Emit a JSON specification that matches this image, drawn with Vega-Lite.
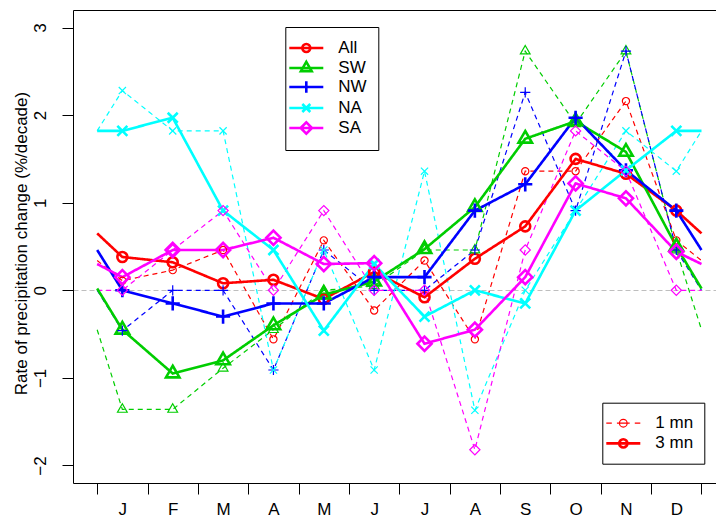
{
  "$schema": "https://vega.github.io/schema/vega-lite/v6.json",
  "width": 643,
  "height": 473,
  "autosize": {"type": "none"},
  "padding": {"left": 73, "top": 10, "right": 0, "bottom": 35},
  "config": {
    "view": {"stroke": null},
    "font": "Liberation Sans",
    "axis": {"grid": false, "domainColor": "black", "tickColor": "black", "labelColor": "black", "titleColor": "black", "labelFont": "Liberation Sans", "titleFont": "Liberation Sans", "labelFontSize": 17, "titleFontSize": 17, "titleFontWeight": "normal", "domainWidth": 1, "tickWidth": 1},
    "legend": {"labelFont": "Liberation Sans", "labelFontSize": 17, "labelColor": "black"}
  },
  "data": {"name": "d"},
  "datasets": {
    "d": [
      {"region":"All","type":"1 mn","month":0.5,"value":0.34},{"region":"All","type":"1 mn","month":1,"value":0.11},{"region":"All","type":"1 mn","month":2,"value":0.23},{"region":"All","type":"1 mn","month":3,"value":0.46},{"region":"All","type":"1 mn","month":4,"value":-0.56},{"region":"All","type":"1 mn","month":5,"value":0.57},{"region":"All","type":"1 mn","month":6,"value":-0.23},{"region":"All","type":"1 mn","month":7,"value":0.34},{"region":"All","type":"1 mn","month":8,"value":-0.56},{"region":"All","type":"1 mn","month":9,"value":1.36},{"region":"All","type":"1 mn","month":10,"value":1.36},{"region":"All","type":"1 mn","month":11,"value":2.16},{"region":"All","type":"1 mn","month":12,"value":0.57},{"region":"All","type":"1 mn","month":12.5,"value":0.34},
      {"region":"SW","type":"1 mn","month":0.5,"value":-0.45},{"region":"SW","type":"1 mn","month":1,"value":-1.36},{"region":"SW","type":"1 mn","month":2,"value":-1.36},{"region":"SW","type":"1 mn","month":3,"value":-0.89},{"region":"SW","type":"1 mn","month":4,"value":-0.45},{"region":"SW","type":"1 mn","month":5,"value":0.0},{"region":"SW","type":"1 mn","month":6,"value":0.05},{"region":"SW","type":"1 mn","month":7,"value":0.46},{"region":"SW","type":"1 mn","month":8,"value":0.46},{"region":"SW","type":"1 mn","month":9,"value":2.73},{"region":"SW","type":"1 mn","month":10,"value":1.9},{"region":"SW","type":"1 mn","month":11,"value":2.73},{"region":"SW","type":"1 mn","month":12,"value":0.46},{"region":"SW","type":"1 mn","month":12.5,"value":-0.45},
      {"region":"NW","type":"1 mn","month":0.5,"value":0.0},{"region":"NW","type":"1 mn","month":1,"value":-0.46},{"region":"NW","type":"1 mn","month":2,"value":0.0},{"region":"NW","type":"1 mn","month":3,"value":0.0},{"region":"NW","type":"1 mn","month":4,"value":-0.91},{"region":"NW","type":"1 mn","month":5,"value":0.46},{"region":"NW","type":"1 mn","month":6,"value":0.0},{"region":"NW","type":"1 mn","month":7,"value":0.0},{"region":"NW","type":"1 mn","month":8,"value":0.46},{"region":"NW","type":"1 mn","month":9,"value":2.26},{"region":"NW","type":"1 mn","month":10,"value":0.91},{"region":"NW","type":"1 mn","month":11,"value":2.73},{"region":"NW","type":"1 mn","month":12,"value":0.46},{"region":"NW","type":"1 mn","month":12.5,"value":0.0},
      {"region":"NA","type":"1 mn","month":0.5,"value":1.82},{"region":"NA","type":"1 mn","month":1,"value":2.28},{"region":"NA","type":"1 mn","month":2,"value":1.82},{"region":"NA","type":"1 mn","month":3,"value":1.82},{"region":"NA","type":"1 mn","month":4,"value":-0.91},{"region":"NA","type":"1 mn","month":5,"value":0.46},{"region":"NA","type":"1 mn","month":6,"value":-0.91},{"region":"NA","type":"1 mn","month":7,"value":1.36},{"region":"NA","type":"1 mn","month":8,"value":-1.37},{"region":"NA","type":"1 mn","month":9,"value":0.0},{"region":"NA","type":"1 mn","month":10,"value":0.91},{"region":"NA","type":"1 mn","month":11,"value":1.82},{"region":"NA","type":"1 mn","month":12,"value":1.36},{"region":"NA","type":"1 mn","month":12.5,"value":1.82},
      {"region":"SA","type":"1 mn","month":0.5,"value":0.0},{"region":"SA","type":"1 mn","month":1,"value":0.0},{"region":"SA","type":"1 mn","month":2,"value":0.46},{"region":"SA","type":"1 mn","month":3,"value":0.91},{"region":"SA","type":"1 mn","month":4,"value":0.0},{"region":"SA","type":"1 mn","month":5,"value":0.91},{"region":"SA","type":"1 mn","month":6,"value":0.0},{"region":"SA","type":"1 mn","month":7,"value":0.0},{"region":"SA","type":"1 mn","month":8,"value":-1.82},{"region":"SA","type":"1 mn","month":9,"value":0.46},{"region":"SA","type":"1 mn","month":10,"value":1.82},{"region":"SA","type":"1 mn","month":11,"value":1.36},{"region":"SA","type":"1 mn","month":12,"value":0.0},{"region":"SA","type":"1 mn","month":12.5,"value":0.0},
      {"region":"All","type":"3 mn","month":0.5,"value":0.65},{"region":"All","type":"3 mn","month":1,"value":0.38},{"region":"All","type":"3 mn","month":2,"value":0.32},{"region":"All","type":"3 mn","month":3,"value":0.08},{"region":"All","type":"3 mn","month":4,"value":0.12},{"region":"All","type":"3 mn","month":5,"value":-0.1},{"region":"All","type":"3 mn","month":6,"value":0.21},{"region":"All","type":"3 mn","month":7,"value":-0.08},{"region":"All","type":"3 mn","month":8,"value":0.36},{"region":"All","type":"3 mn","month":9,"value":0.73},{"region":"All","type":"3 mn","month":10,"value":1.5},{"region":"All","type":"3 mn","month":11,"value":1.33},{"region":"All","type":"3 mn","month":12,"value":0.91},{"region":"All","type":"3 mn","month":12.5,"value":0.65},
      {"region":"SW","type":"3 mn","month":0.5,"value":0.02},{"region":"SW","type":"3 mn","month":1,"value":-0.45},{"region":"SW","type":"3 mn","month":2,"value":-0.95},{"region":"SW","type":"3 mn","month":3,"value":-0.8},{"region":"SW","type":"3 mn","month":4,"value":-0.4},{"region":"SW","type":"3 mn","month":5,"value":-0.05},{"region":"SW","type":"3 mn","month":6,"value":0.1},{"region":"SW","type":"3 mn","month":7,"value":0.47},{"region":"SW","type":"3 mn","month":8,"value":0.95},{"region":"SW","type":"3 mn","month":9,"value":1.73},{"region":"SW","type":"3 mn","month":10,"value":1.93},{"region":"SW","type":"3 mn","month":11,"value":1.58},{"region":"SW","type":"3 mn","month":12,"value":0.5},{"region":"SW","type":"3 mn","month":12.5,"value":0.02},
      {"region":"NW","type":"3 mn","month":0.5,"value":0.46},{"region":"NW","type":"3 mn","month":1,"value":0.0},{"region":"NW","type":"3 mn","month":2,"value":-0.15},{"region":"NW","type":"3 mn","month":3,"value":-0.3},{"region":"NW","type":"3 mn","month":4,"value":-0.15},{"region":"NW","type":"3 mn","month":5,"value":-0.15},{"region":"NW","type":"3 mn","month":6,"value":0.15},{"region":"NW","type":"3 mn","month":7,"value":0.15},{"region":"NW","type":"3 mn","month":8,"value":0.91},{"region":"NW","type":"3 mn","month":9,"value":1.21},{"region":"NW","type":"3 mn","month":10,"value":1.97},{"region":"NW","type":"3 mn","month":11,"value":1.37},{"region":"NW","type":"3 mn","month":12,"value":0.91},{"region":"NW","type":"3 mn","month":12.5,"value":0.46},
      {"region":"NA","type":"3 mn","month":0.5,"value":1.82},{"region":"NA","type":"3 mn","month":1,"value":1.82},{"region":"NA","type":"3 mn","month":2,"value":1.97},{"region":"NA","type":"3 mn","month":3,"value":0.91},{"region":"NA","type":"3 mn","month":4,"value":0.46},{"region":"NA","type":"3 mn","month":5,"value":-0.46},{"region":"NA","type":"3 mn","month":6,"value":0.3},{"region":"NA","type":"3 mn","month":7,"value":-0.3},{"region":"NA","type":"3 mn","month":8,"value":0.0},{"region":"NA","type":"3 mn","month":9,"value":-0.15},{"region":"NA","type":"3 mn","month":10,"value":0.91},{"region":"NA","type":"3 mn","month":11,"value":1.37},{"region":"NA","type":"3 mn","month":12,"value":1.82},{"region":"NA","type":"3 mn","month":12.5,"value":1.82},
      {"region":"SA","type":"3 mn","month":0.5,"value":0.3},{"region":"SA","type":"3 mn","month":1,"value":0.15},{"region":"SA","type":"3 mn","month":2,"value":0.46},{"region":"SA","type":"3 mn","month":3,"value":0.46},{"region":"SA","type":"3 mn","month":4,"value":0.6},{"region":"SA","type":"3 mn","month":5,"value":0.3},{"region":"SA","type":"3 mn","month":6,"value":0.31},{"region":"SA","type":"3 mn","month":7,"value":-0.61},{"region":"SA","type":"3 mn","month":8,"value":-0.45},{"region":"SA","type":"3 mn","month":9,"value":0.15},{"region":"SA","type":"3 mn","month":10,"value":1.22},{"region":"SA","type":"3 mn","month":11,"value":1.05},{"region":"SA","type":"3 mn","month":12,"value":0.44},{"region":"SA","type":"3 mn","month":12.5,"value":0.3}
    ]
  },
  "resolve": {"scale": {"shape": "independent", "strokeWidth": "independent", "color": "independent"}},
  "layer": [
    {
      "encoding": {
        "x": {"field": "month", "type": "quantitative", "scale": {"domain": [0.02, 12.788], "nice": false, "zero": false},
          "axis": {"orient": "bottom", "title": null, "values": [0.5,1.5,2.5,3.5,4.5,5.5,6.5,7.5,8.5,9.5,10.5,11.5,12.5], "tickSize": 11, "labelExpr": "['J','F','M','A','M','J','J','A','S','O','N','D'][datum.value - 0.5] || ''", "labelOffset": 25.18, "labelPadding": 20, "labelBaseline": "alphabetic", "labelAlign": "center", "labelFlush": false, "labelOverlap": false, "labelBound": false}},
        "y": {"field": "value", "type": "quantitative", "scale": {"domain": [-2.2, 3.2], "nice": false, "zero": false},
          "axis": {"orient": "left", "values": [-2,-1,0,1,2,3,3.2], "tickSize": 11,
            "tickOpacity": {"condition": {"test": "datum.value > 3.1", "value": 0}, "value": 1},
            "grid": true, "gridWidth": 1,
            "gridColor": {"condition": {"test": "datum.value === 0", "value": "#bebebe"}, "value": "black"},
            "gridOpacity": {"condition": {"test": "datum.value === 0 || datum.value > 3.1", "value": 1}, "value": 0},
            "gridDash": {"condition": {"test": "datum.value === 0", "value": [5, 3]}, "value": []},
            "labelExpr": "datum.value > 3.1 ? '' : datum.label",
            "labelAngle": 270, "labelAlign": "center", "labelBaseline": "alphabetic", "labelPadding": 17, "labelFlush": false, "labelOverlap": false, "labelBound": false,
            "title": "Rate of precipitation change (%/decade)", "titleAngle": 270, "titleAlign": "center", "titleBaseline": "alphabetic", "titleX": -47, "titleY": 233}}
      },
      "layer": [
        {
          "transform": [{"filter": "false"}],
          "mark": {"type": "point", "filled": false, "opacity": 1, "size": 289, "strokeWidth": 2.6},
          "encoding": {
            "color": {"field": "region", "type": "nominal",
              "scale": {"domain": ["All","SW","NW","NA","SA"], "range": ["#FF0000","#00CD00","#0000FF","#00FFFF","#FF00FF"]},
              "legend": {"title": null, "orient": "none", "legendX": 212.3, "legendY": 17, "direction": "vertical", "strokeColor": "black", "fillColor": "white", "padding": 11, "rowPadding": -2, "labelOffset": 22, "symbolSize": 289, "symbolStrokeWidth": 2.6, "labelFontSize": 17}},
            "shape": {"field": "region", "type": "nominal",
              "scale": {"domain": ["All","SW","NW","NA","SA"], "range": [
                "M-2,0H2M0.47,0A0.47,0.47 0 1,1 -0.47,0A0.47,0.47 0 1,1 0.47,0",
                "M-2,0H2M0,-0.73L0.633,0.365L-0.633,0.365Z",
                "M-2,0H2M0,-0.665V0.665",
                "M-2,0H2M-0.47,-0.47L0.47,0.47M-0.47,0.47L0.47,-0.47",
                "M-2,0H2M-0.665,0L0,-0.665L0.665,0L0,0.665Z"]},
              "legend": {"title": null, "orient": "none", "legendX": 212.3, "legendY": 17, "direction": "vertical", "strokeColor": "black", "fillColor": "white", "padding": 11, "rowPadding": -2, "labelOffset": 22, "symbolSize": 289, "symbolStrokeWidth": 2.6, "labelFontSize": 17}}
          }
        },
        {
          "mark": {"type": "line"},
          "encoding": {
            "color": {"field": "region", "type": "nominal", "scale": {"domain": ["All","SW","NW","NA","SA"], "range": ["#FF0000","#00CD00","#0000FF","#00FFFF","#FF00FF"]}, "legend": null},
            "strokeDash": {"field": "type", "type": "nominal", "scale": {"domain": ["1 mn","3 mn"], "range": [[5,4],[1,0]]}, "legend": null},
            "strokeWidth": {"field": "type", "type": "ordinal", "scale": {"domain": ["1 mn","3 mn"], "range": [1.2, 2.6]}, "legend": null}
          }
        },
        {
          "transform": [{"filter": "datum.region === 'All' && datum.month >= 1 && datum.month <= 12"}],
          "mark": {"type": "point", "shape": "circle", "filled": false, "opacity": 1},
          "encoding": {
            "color": {"field": "region", "type": "nominal", "scale": {"domain": ["All","SW","NW","NA","SA"], "range": ["#FF0000","#00CD00","#0000FF","#00FFFF","#FF00FF"]}, "legend": null},
            "size": {"field": "type", "type": "ordinal", "scale": {"domain": ["1 mn","3 mn"], "range": [52, 100]}, "legend": null},
            "strokeWidth": {"field": "type", "type": "ordinal", "scale": {"domain": ["1 mn","3 mn"], "range": [1.2, 2.6]}, "legend": null}
          }
        },
        {
          "transform": [{"filter": "datum.region === 'SW' && datum.month >= 1 && datum.month <= 12"}],
          "mark": {"type": "point", "shape": "M0,-1.555L1.347,0.778L-1.347,0.778Z", "filled": false, "opacity": 1},
          "encoding": {
            "color": {"field": "region", "type": "nominal", "scale": {"domain": ["All","SW","NW","NA","SA"], "range": ["#FF0000","#00CD00","#0000FF","#00FFFF","#FF00FF"]}, "legend": null},
            "size": {"field": "type", "type": "ordinal", "scale": {"domain": ["1 mn","3 mn"], "range": [52, 100]}, "legend": null},
            "strokeWidth": {"field": "type", "type": "ordinal", "scale": {"domain": ["1 mn","3 mn"], "range": [1.2, 2.6]}, "legend": null}
          }
        },
        {
          "transform": [{"filter": "datum.region === 'NW' && datum.month >= 1 && datum.month <= 12"}],
          "mark": {"type": "point", "shape": "M-1.414,0H1.414M0,-1.414V1.414", "filled": false, "opacity": 1},
          "encoding": {
            "color": {"field": "region", "type": "nominal", "scale": {"domain": ["All","SW","NW","NA","SA"], "range": ["#FF0000","#00CD00","#0000FF","#00FFFF","#FF00FF"]}, "legend": null},
            "size": {"field": "type", "type": "ordinal", "scale": {"domain": ["1 mn","3 mn"], "range": [52, 100]}, "legend": null},
            "strokeWidth": {"field": "type", "type": "ordinal", "scale": {"domain": ["1 mn","3 mn"], "range": [1.2, 2.6]}, "legend": null}
          }
        },
        {
          "transform": [{"filter": "datum.region === 'NA' && datum.month >= 1 && datum.month <= 12"}],
          "mark": {"type": "point", "shape": "M-1,-1L1,1M-1,1L1,-1", "filled": false, "opacity": 1},
          "encoding": {
            "color": {"field": "region", "type": "nominal", "scale": {"domain": ["All","SW","NW","NA","SA"], "range": ["#FF0000","#00CD00","#0000FF","#00FFFF","#FF00FF"]}, "legend": null},
            "size": {"field": "type", "type": "ordinal", "scale": {"domain": ["1 mn","3 mn"], "range": [52, 100]}, "legend": null},
            "strokeWidth": {"field": "type", "type": "ordinal", "scale": {"domain": ["1 mn","3 mn"], "range": [1.2, 2.6]}, "legend": null}
          }
        },
        {
          "transform": [{"filter": "datum.region === 'SA' && datum.month >= 1 && datum.month <= 12"}],
          "mark": {"type": "point", "shape": "M-1.414,0L0,-1.414L1.414,0L0,1.414Z", "filled": false, "opacity": 1},
          "encoding": {
            "color": {"field": "region", "type": "nominal", "scale": {"domain": ["All","SW","NW","NA","SA"], "range": ["#FF0000","#00CD00","#0000FF","#00FFFF","#FF00FF"]}, "legend": null},
            "size": {"field": "type", "type": "ordinal", "scale": {"domain": ["1 mn","3 mn"], "range": [52, 100]}, "legend": null},
            "strokeWidth": {"field": "type", "type": "ordinal", "scale": {"domain": ["1 mn","3 mn"], "range": [1.2, 2.6]}, "legend": null}
          }
        }
      ]
    },
    {
      "transform": [{"filter": "false"}],
      "mark": {"type": "point", "filled": false, "opacity": 1, "size": 289, "color": "#FF0000"},
      "encoding": {
        "shape": {"field": "type", "type": "nominal",
          "scale": {"domain": ["1 mn","3 mn"], "range": [
            "M-2,0H-1.35M-0.75,0H0.75M1.35,0H2M0.45,0A0.45,0.45 0 1,1 -0.45,0A0.45,0.45 0 1,1 0.45,0",
            "M-2,0H2M0.48,0A0.48,0.48 0 1,1 -0.48,0A0.48,0.48 0 1,1 0.48,0"]},
          "legend": {"title": null, "orient": "none", "legendX": 529.3, "legendY": 392.7, "direction": "vertical", "strokeColor": "black", "fillColor": "white", "padding": 11, "rowPadding": 1.7, "labelOffset": 22, "symbolSize": 289, "labelFontSize": 17}},
        "strokeWidth": {"field": "type", "type": "ordinal", "scale": {"domain": ["1 mn","3 mn"], "range": [1.2, 2.6]},
          "legend": {"title": null, "orient": "none", "legendX": 529.3, "legendY": 392.7, "direction": "vertical", "strokeColor": "black", "fillColor": "white", "padding": 11, "rowPadding": 1.7, "labelOffset": 22, "symbolSize": 289, "labelFontSize": 17}}
      }
    }
  ]
}
